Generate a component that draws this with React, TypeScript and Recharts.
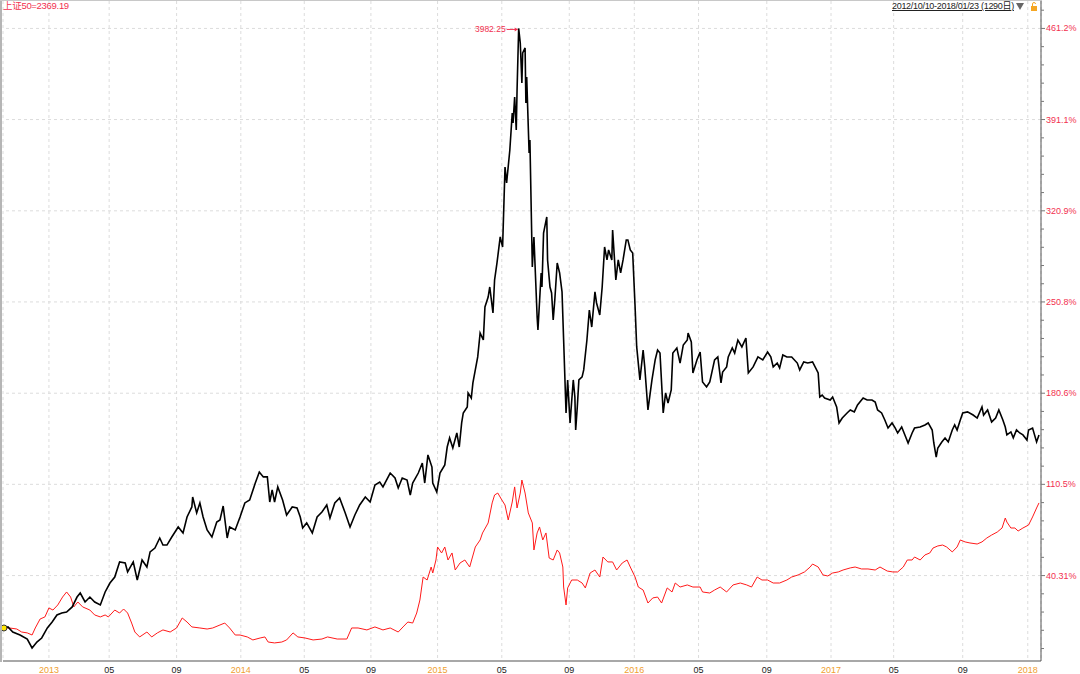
import React from "react";
import {
  LineChart,
  Line,
  XAxis,
  YAxis,
  CartesianGrid,
  ReferenceLine,
  ReferenceDot,
} from "recharts";

// trading-day index of each axis tick (2012/10/10 = day 0)
const xTicks = [56, 131, 215, 295, 374, 457, 540, 620, 704, 785, 865, 950, 1030, 1108, 1194, 1275];
const xLabels = ["2013", "05", "09", "2014", "05", "09", "2015", "05", "09", "2016", "05", "09", "2017", "05", "09", "2018"];

const yMajor = [40.31, 110.5, 180.6, 250.8, 320.9, 391.1, 461.2];
const yLabels = ["40.31%", "110.5%", "180.6%", "250.8%", "320.9%", "391.1%", "461.2%"];

const peakValue = "3982.25";
const titleLeft = "上证50=2369.19";
const titleRight = "2012/10/10-2018/01/23 (1290日)";

// [day, % change] black line
const blackPts = [
  [0, 0], [5, 0.8], [11, -3.1], [20, -5.4], [29, -8.5], [35, -15.4], [41, -10.8], [47, -7.7], [54, 0], [60, 4.6],
  [66, 10], [72, 11.5], [78, 12.3], [85, 16.2], [91, 23.8], [95, 26.9], [101, 20], [107, 23.8], [113, 20], [120, 17.7],
  [126, 27.7], [132, 34.6], [138, 39.2], [144, 50.8], [151, 50], [154, 43.1], [161, 50.8], [166, 36.9], [172, 52.3], [178, 46.9],
  [182, 58.5], [188, 61.5], [194, 69.2], [198, 63.8], [203, 63.8], [209, 70], [213, 73.8], [217, 77.7], [223, 73.1], [228, 85.4],
  [234, 93.1], [235, 100.8], [240, 88.5], [244, 96.2], [248, 85.4], [253, 75.4], [259, 70], [265, 81.5], [269, 83.1], [273, 93.8],
  [278, 69.2], [281, 77.7], [288, 75.4], [294, 85.4], [300, 96.2], [306, 98.5], [313, 111.5], [318, 120], [323, 116.2], [328, 116.2],
  [331, 96.9], [334, 106.2], [337, 96.9], [341, 108.5], [347, 98.5], [352, 86.9], [359, 93.1], [365, 92.3], [369, 85.4], [372, 76.9],
  [377, 80.8], [384, 73.1], [390, 85.4], [396, 89.2], [402, 94.6], [406, 84.6], [412, 96.2], [418, 100], [425, 88.5], [431, 77.7],
  [437, 86.9], [443, 94.6], [450, 100.8], [456, 96.9], [462, 110], [468, 112.3], [472, 108.5], [481, 119.2], [487, 115.4], [491, 107.7],
  [496, 115.4], [502, 113.8], [506, 102.3], [509, 111.5], [516, 119.2], [521, 126.9], [524, 111.5], [528, 133.1], [533, 123.8], [534, 111.5],
  [539, 104.6], [543, 119.2], [549, 125.4], [552, 139.2], [555, 146.2], [559, 138.5], [564, 150], [567, 139.2], [570, 157.7], [572, 165.4],
  [577, 170], [578, 180.8], [582, 176.9], [584, 188.5], [587, 198.5], [590, 208.5], [593, 226.9], [597, 221.5], [599, 246.9], [603, 254.6],
  [605, 262.3], [609, 242.3], [611, 267.7], [614, 280.8], [618, 300.8], [621, 293.1], [624, 354.6], [626, 342.3], [630, 367.7], [633, 396.2],
  [634, 388.5], [636, 408.5], [638, 383.1], [639, 413.8], [641, 461.2], [643, 450], [645, 419.2], [646, 442.3], [649, 446.2], [650, 403.8],
  [651, 423.8], [654, 365.4], [655, 375.4], [658, 277.7], [660, 300.8], [664, 239.2], [665, 229.2], [669, 273.1], [670, 262.3], [672, 303.8],
  [676, 316.2], [677, 283.1], [680, 262.3], [682, 257.7], [684, 236.9], [686, 252.3], [689, 280.8], [692, 273.1], [695, 258.5], [697, 221.5],
  [700, 165.4], [702, 190.8], [705, 157.7], [709, 190.8], [711, 177.7], [712, 152.3], [714, 170], [716, 190.8], [720, 193.1], [722, 198.5],
  [726, 221.5], [729, 244.6], [732, 231.5], [736, 258.5], [738, 250], [742, 240.8], [745, 262.3], [748, 293.1], [751, 283.1], [753, 290.8],
  [757, 283.1], [758, 306.2], [762, 267.7], [765, 283.1], [768, 273.1], [771, 283.1], [775, 298.5], [777, 298.5], [780, 290.8], [783, 288.5],
  [786, 246.9], [788, 216.2], [792, 190.8], [796, 213.8], [798, 200.8], [802, 167.7], [807, 190.8], [811, 206.2], [814, 213.8], [817, 211.5],
  [821, 165.4], [824, 180.8], [827, 173.1], [831, 183.1], [833, 211.5], [838, 215.4], [842, 203.8], [846, 217.7], [851, 221.5], [852, 226.9],
  [856, 220], [858, 196.2], [863, 206.2], [867, 212.3], [870, 189.2], [875, 185.4], [879, 189.2], [885, 206.2], [889, 208.5], [893, 188.5],
  [895, 196.9], [900, 200.8], [902, 208.5], [907, 215.4], [910, 211.5], [914, 221.5], [919, 216.2], [924, 223.1], [927, 196.2], [933, 200.8],
  [939, 208.5], [945, 206.2], [951, 212.3], [955, 208.5], [958, 200.8], [963, 203.8], [966, 200], [970, 210], [975, 208.5], [981, 208.5],
  [988, 203.8], [991, 198.5], [996, 204.6], [1001, 203.8], [1007, 204.6], [1014, 196.2], [1016, 177.7], [1019, 179.2], [1022, 176.9], [1029, 175.4],
  [1032, 177.7], [1037, 170], [1040, 157.7], [1044, 161.5], [1050, 165.4], [1054, 167.7], [1059, 166.2], [1063, 171.5], [1070, 176.9], [1075, 175.4],
  [1081, 175.4], [1085, 173.8], [1088, 167.7], [1093, 165.4], [1097, 160], [1101, 153.8], [1106, 157.7], [1110, 153.8], [1113, 150], [1118, 154.6],
  [1122, 148.5], [1126, 142.3], [1131, 150], [1134, 153.8], [1141, 154.6], [1147, 156.2], [1151, 157.7], [1156, 152.3], [1158, 142.3], [1161, 131.5],
  [1163, 138.5], [1168, 143.1], [1172, 146.2], [1176, 143.1], [1181, 152.3], [1184, 156.2], [1187, 152.3], [1191, 160], [1194, 165.4], [1200, 166.2],
  [1207, 163.8], [1212, 161.5], [1218, 170], [1220, 163.8], [1225, 167.7], [1230, 158.5], [1235, 161.5], [1239, 167.7], [1244, 160], [1247, 154.6],
  [1249, 148.5], [1254, 150.8], [1257, 146.2], [1261, 152.3], [1265, 150], [1269, 148.5], [1274, 144.6], [1276, 152.3], [1281, 153.8], [1286, 143.1],
  [1289, 148.5],
];

// [day, % change] red line (上证50)
const redPts = [
  [0, 0], [7, 0], [16, -0.8], [22, -3.1], [29, -3.8], [35, -5.4], [39, 0], [45, 6.9], [51, 8.5], [56, 15.4],
  [61, 13.8], [67, 17.7], [73, 23.8], [78, 27.7], [83, 23.8], [87, 16.2], [92, 20], [98, 16.2], [107, 13.8], [113, 10],
  [120, 8.5], [126, 10], [130, 8.5], [138, 13.8], [144, 11.5], [149, 14.6], [154, 11.5], [159, 3.8], [163, -3.1], [169, -6.9],
  [178, -3.1], [184, -6.9], [191, -3.8], [198, -1.5], [207, -3.1], [215, 0], [222, 7.7], [228, 4.6], [234, 0.8], [244, 0],
  [253, -0.8], [260, 0], [269, 2.3], [275, 3.8], [281, 0], [288, -5.4], [294, -5.4], [303, -6.9], [310, -9.2], [319, -7.7],
  [325, -6.9], [329, -10.8], [337, -11.5], [346, -10.8], [352, -9.2], [360, -3.8], [366, -6.9], [375, -7.7], [385, -9.2], [396, -8.5],
  [403, -6.9], [415, -8.5], [427, -8.5], [433, 0], [441, 0], [452, -1.5], [462, 0.8], [472, -1.5], [481, 0], [491, -3.1],
  [497, 0.8], [503, 4.6], [509, 3.8], [514, 11.5], [518, 21.5], [522, 39.2], [527, 36.9], [532, 46.9], [534, 42.3], [538, 52.3],
  [540, 62.3], [545, 57.7], [549, 62.3], [553, 52.3], [558, 57.7], [562, 44.6], [568, 50], [574, 52.3], [580, 46.9], [587, 62.3],
  [593, 67.7], [596, 73.1], [603, 80.8], [608, 96.2], [611, 102.3], [615, 103.8], [620, 98.5], [624, 94.6], [628, 83.1], [633, 96.9],
  [636, 108.5], [639, 92.3], [643, 103.8], [645, 113.8], [649, 103.8], [653, 88.5], [658, 80.8], [660, 60], [664, 73.1], [667, 77.7],
  [671, 67.7], [675, 73.1], [679, 53.8], [684, 52.3], [689, 60], [692, 57.7], [696, 46.9], [697, 31.5], [700, 17.7], [702, 30.8],
  [707, 36.9], [714, 36.9], [720, 34.6], [724, 30.8], [730, 42.3], [736, 44.6], [742, 39.2], [746, 54.6], [752, 50.8], [758, 50.8],
  [763, 44.6], [770, 50], [776, 52.3], [780, 46.9], [786, 39.2], [790, 31.5], [796, 29.2], [802, 19.2], [808, 23.1], [814, 23.8],
  [819, 19.2], [826, 30.8], [832, 27.7], [836, 34.6], [842, 31.5], [851, 33.1], [858, 31.5], [867, 31.5], [870, 27.7], [879, 26.9],
  [885, 29.2], [892, 31.5], [900, 27.7], [908, 33.1], [917, 34.6], [925, 33.1], [931, 31.5], [938, 39.2], [944, 36.9], [951, 36.9],
  [958, 34.6], [966, 34.6], [975, 36.9], [981, 39.2], [989, 40.8], [997, 43.1], [1004, 46.9], [1007, 49.2], [1014, 46.9], [1020, 40.8],
  [1026, 40], [1032, 42.3], [1039, 43.1], [1045, 44.6], [1054, 46.2], [1060, 46.9], [1068, 45.4], [1076, 45.4], [1085, 44.6], [1091, 46.9],
  [1100, 43.8], [1107, 43.1], [1113, 43.1], [1120, 46.9], [1125, 52.3], [1131, 52.3], [1134, 54.6], [1141, 52.3], [1147, 56.2], [1153, 57.7],
  [1157, 61.5], [1163, 63.1], [1169, 63.8], [1174, 62.3], [1181, 58.5], [1187, 62.3], [1191, 67.7], [1197, 66.2], [1203, 65.4], [1212, 64.6],
  [1218, 66.2], [1224, 69.2], [1230, 71.5], [1237, 73.8], [1243, 76.9], [1247, 84.6], [1249, 81.5], [1254, 76.9], [1259, 76.9], [1263, 74.6],
  [1269, 76.9], [1276, 79.2], [1281, 85.4], [1286, 92.3], [1289, 96.2],
];

const blackData = blackPts.map(([d, v]) => ({ d, v }));
const redData = redPts.map(([d, v]) => ({ d, v }));

// axis ticks: the labelled majors plus 4 unlabelled minor ticks per interval
const minorStep = (yMajor[6] - yMajor[0]) / 30;
const yTicks: number[] = [];
for (let k = -4; k <= 31; k++) {
  if (k % 5 === 0) yTicks.push(yMajor[k / 5]);
  else yTicks.push(+(yMajor[0] + k * minorStep).toFixed(3));
}

const FONT = "'Liberation Sans', Arial, 'Noto Sans CJK SC', sans-serif";
const RED_TEXT = "#f2304f";

const XTick = (props: any) => {
  const { x, y, payload } = props;
  const i = xTicks.indexOf(payload.value);
  if (i < 0) return null;
  const lab = xLabels[i];
  return (
    <text
      x={x}
      y={y + 9}
      textAnchor="middle"
      dominantBaseline="central"
      fontSize={9}
      fontFamily={FONT}
      fill={lab.length === 4 ? "#f0a030" : "#222"}
    >
      {lab}
    </text>
  );
};

const YTick = (props: any) => {
  const { x, y, payload } = props;
  const i = yMajor.indexOf(payload.value);
  if (i < 0) {
    return <line x1={x} x2={x + 3} y1={y} y2={y} stroke="#777" />;
  }
  return (
    <g>
      <line x1={x} x2={x + 4} y1={y} y2={y} stroke="#777" />
      <text x={x + 5} y={y} dominantBaseline="central" fontSize={9} fontFamily={FONT} fill={RED_TEXT}>
        {yLabels[i]}
      </text>
    </g>
  );
};

const PeakMark = (props: any) => {
  const { cx, cy } = props;
  return (
    <g>
      <line x1={cx - 12} x2={cx - 1} y1={cy + 1} y2={cy + 1} stroke={RED_TEXT} strokeWidth={1} />
      <path d={`M${cx - 1},${cy + 1} l-3,-2 l0,4 z`} fill={RED_TEXT} />
      <text x={cx - 13} y={cy + 1} textAnchor="end" dominantBaseline="central" fontSize={8.5} fontFamily={FONT} fill={RED_TEXT}>
        {peakValue}
      </text>
    </g>
  );
};

export default function App() {
  return (
    <div style={{ position: "relative", width: 1080, height: 674, background: "#fff" }}>
      <style>{`body{margin:0;}`}</style>
      <LineChart
        width={1080}
        height={674}
        margin={{ top: 1, right: 0, bottom: 0, left: 3 }}
      >
        <CartesianGrid horizontal={false} stroke="#dcdcdc" strokeDasharray="3 3" />
        {yMajor.map((v) => (
          <ReferenceLine key={v} y={v} stroke="#dcdcdc" strokeDasharray="3 3" />
        ))}
        <XAxis
          type="number"
          dataKey="d"
          domain={[-1.2, 1291.5]}
          allowDataOverflow
          ticks={xTicks}
          interval={0}
          height={13}
          tickSize={0}
          tickMargin={0}
          tickLine={false}
          axisLine={{ stroke: "#a8a8a8", strokeWidth: 2 }}
          tick={<XTick />}
        />
        <YAxis
          orientation="right"
          type="number"
          domain={[-25.4, 482.3]}
          allowDataOverflow
          ticks={yTicks}
          interval={0}
          width={39}
          tickSize={0}
          tickMargin={0}
          tickLine={false}
          axisLine={{ stroke: "#555" }}
          tick={<YTick />}
        />
        <Line
          data={redData}
          dataKey="v"
          type="linear"
          stroke="#ff1a1a"
          strokeWidth={1}
          dot={false}
          isAnimationActive={false}
        />
        <Line
          data={blackData}
          dataKey="v"
          type="linear"
          stroke="#000"
          strokeWidth={1.6}
          dot={false}
          isAnimationActive={false}
        />
        <ReferenceDot x={641} y={461.2} r={0} shape={<PeakMark />} />
        <ReferenceDot x={0} y={0} r={3} fill="#ffe600" stroke="#333" strokeWidth={1} />
      </LineChart>
      <div style={{ position: "absolute", left: 0, top: 0, width: 2, height: 662, background: "#b5b5b5" }} />
      <div style={{ position: "absolute", left: 0, top: 0, width: 1042, height: 1, background: "#c8c8c8" }} />
      <div
        style={{
          position: "absolute",
          left: 3,
          top: 0,
          fontSize: 9.5,
          letterSpacing: -0.3,
          lineHeight: "12px",
          color: RED_TEXT,
          fontFamily: FONT,
        }}
      >
        {titleLeft}
      </div>
      <div
        style={{
          position: "absolute",
          left: 892,
          top: 0,
          fontSize: 9,
          letterSpacing: -0.3,
          lineHeight: "12px",
          color: "#222",
          fontFamily: FONT,
          textDecoration: "underline",
          whiteSpace: "nowrap",
        }}
      >
        {titleRight}
      </div>
      <svg style={{ position: "absolute", left: 1015, top: 2 }} width={26} height={10}>
        <path d="M1,1 L9,1 L5,8 Z" fill="#666" />
        <rect x={16} y={4} width={6} height={5} fill="#f5a623" />
        <path d="M17.5,4 L17.5,2 A1.5,1.5 0 0 1 20.5,2" stroke="#f5a623" fill="none" strokeWidth={1} />
      </svg>
    </div>
  );
}
